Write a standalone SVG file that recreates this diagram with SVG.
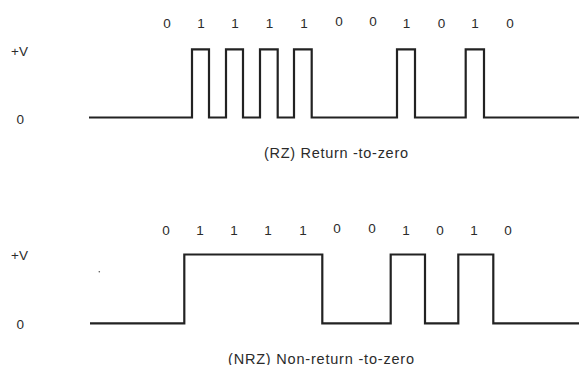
<svg xmlns="http://www.w3.org/2000/svg" width="579" height="365" viewBox="0 0 579 365">
  <style>
    .wave { fill: none; stroke: #222; stroke-width: 2.2; stroke-linejoin: miter; }
    .lbl { font-family: "Liberation Sans", Arial, sans-serif; font-size: 13.5px; fill: #2b2b2b; }
    .cap { font-size: 14.5px; }
    .bit { text-anchor: middle; }
  </style>
  <rect width="579" height="365" fill="#fff"/>

  <!-- Return-to-zero panel -->
  <g id="rz-axis">
    <text class="lbl" x="11" y="55.5">+V</text>
    <text class="lbl" x="16.5" y="123.5">0</text>
  </g>
  <g id="rz-bits" class="lbl bit">
    <text x="167" y="27.5">0</text>
    <text x="201" y="27.5">1</text>
    <text x="235" y="27.5">1</text>
    <text x="269.5" y="27.5">1</text>
    <text x="304" y="27.5">1</text>
    <text x="339" y="25.5">0</text>
    <text x="373" y="25.5">0</text>
    <text x="406.5" y="27.5">1</text>
    <text x="441.5" y="28">0</text>
    <text x="475" y="27.5">1</text>
    <text x="510" y="28">0</text>
  </g>
  <g id="rz-caption">
    <text class="lbl cap" x="264" y="157.5" textLength="144" lengthAdjust="spacing">(RZ) Return -to-zero</text>
  </g>

  <!-- Non-return-to-zero panel -->
  <g id="nrz-axis">
    <text class="lbl" x="11" y="259.5">+V</text>
    <text class="lbl" x="16.5" y="328.5">0</text>
    <circle cx="99.3" cy="271.7" r="0.8" fill="#555"/>
  </g>
  <g id="nrz-bits" class="lbl bit">
    <text x="166" y="234.5">0</text>
    <text x="200" y="234.5">1</text>
    <text x="234" y="234.5">1</text>
    <text x="268" y="234.5">1</text>
    <text x="303" y="234.5">1</text>
    <text x="337" y="232.5">0</text>
    <text x="372" y="232.5">0</text>
    <text x="406" y="234.5">1</text>
    <text x="440" y="235">0</text>
    <text x="474" y="234.5">1</text>
    <text x="508" y="235">0</text>
  </g>
  <g id="nrz-caption">
    <text class="lbl cap" x="228" y="363.5" textLength="186" lengthAdjust="spacing">(NRZ) Non-return -to-zero</text>
  </g>

  <!-- Signal traces -->
  <g id="connectors">
    <path id="rz-wave" class="wave" d="M89 117.5 H192 V49.3 H209 V117.5 H226 V49.3 H243 V117.5 H260 V49.3 H277.7 V117.5 H294 V49.3 H311.7 V117.5 H397 V49.3 H415 V117.5 H465.7 V49.3 H484 V117.5 H579"/>
    <path id="nrz-wave" class="wave" d="M90 323.3 H184.3 V254.5 H322.3 V323.3 H390.7 V254.5 H425 V323.3 H458.3 V254.5 H493.3 V323.3 H579"/>
  </g>
</svg>
